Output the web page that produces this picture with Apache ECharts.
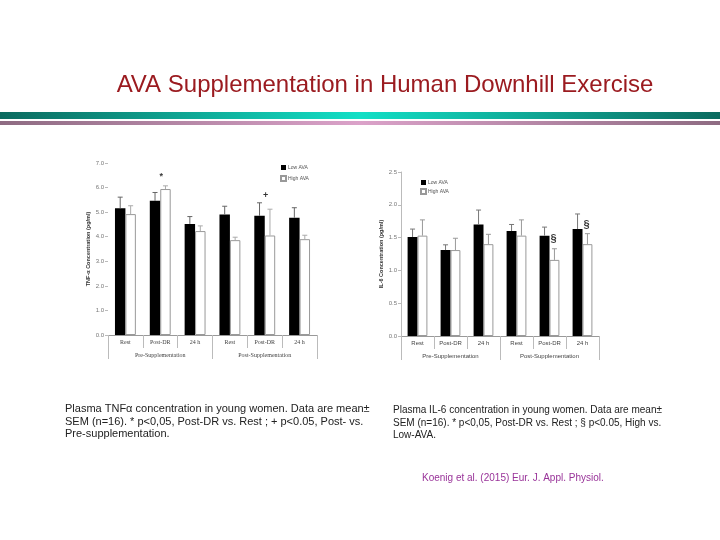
<!DOCTYPE html>
<html><head><meta charset="utf-8">
<script src="https://cdn.jsdelivr.net/npm/echarts@6/dist/echarts.min.js"></script>
<style>html,body{margin:0;padding:0;background:#fff}#c{width:720px;height:540px}</style>
</head><body><div id="c"></div>
<script>
const categories = ['Rest', 'Post-DR', '24 h', 'Rest', 'Post-DR', '24 h'];
const groups = ['Pre-Supplementation', 'Post-Supplementation'];
const seriesNames = ['Low AVA', 'High AVA'];
const tnfLow = [5.16, 5.46, 4.52, 4.90, 4.85, 4.77];
const tnfLowSem = [0.45, 0.34, 0.30, 0.34, 0.53, 0.41];
const tnfHigh = [4.92, 5.94, 4.23, 3.86, 4.05, 3.90];
const tnfHighSem = [0.34, 0.13, 0.21, 0.12, 1.07, 0.16];
const il6Low = [1.51, 1.31, 1.70, 1.60, 1.53, 1.63];
const il6LowSem = [0.12, 0.08, 0.22, 0.10, 0.13, 0.23];
const il6High = [1.53, 1.31, 1.40, 1.53, 1.16, 1.40];
const il6HighSem = [0.24, 0.18, 0.15, 0.24, 0.17, 0.16];
const tnfMarkCats = [1, 4];
const tnfMarkValues = [6.45, 5.69];
const tnfMarkTexts = ['*', '+'];
const il6MarkCats = [4, 5];
const il6MarkValues = [1.48, 1.70];
const il6MarkTexts = ['§', '§'];
const tnfTicks = [0, 7, 1];
const il6Ticks = [0, 2.5, 0.5];

const chart = echarts.init(document.getElementById('c'), null, {renderer: 'canvas'});

function errSeries(name, xi, yi, means, sems, side, color) {
  return {
    type: 'custom', name: name + ' SEM', xAxisIndex: xi, yAxisIndex: yi, z: 3,
    data: means.map((m, i) => [i, m, m + sems[i]]),
    renderItem: function (params, api) {
      const i = api.value(0);
      const band = api.size([1, 0])[0];
      const p0 = api.coord([i, api.value(1)]);
      const p1 = api.coord([i, api.value(2)]);
      const x = p0[0] + side * band * 0.15;
      return {type: 'group', children: [
        {type: 'line', shape: {x1: x, y1: p0[1], x2: x, y2: p1[1]}, style: {stroke: color, lineWidth: 1}},
        {type: 'line', shape: {x1: x - 2.5, y1: p1[1], x2: x + 2.5, y2: p1[1]}, style: {stroke: color, lineWidth: 1}}
      ]};
    }
  };
}
function markSeries(xi, yi, cats, vals, texts, size, dx) {
  return {
    type: 'scatter', xAxisIndex: xi, yAxisIndex: yi, symbolSize: 1, itemStyle: {color: 'rgba(0,0,0,0)'}, z: 5,
    data: cats.map((c, i) => ({value: [c, vals[i]], label: {formatter: texts[i]}})),
    label: {show: true, position: 'inside', offset: [dx, 0], fontSize: size, color: '#000', fontFamily: 'Liberation Sans', fontWeight: 'bold'}
  };
}
function catAxis(gi, family) {
  return {type: 'category', gridIndex: gi, data: categories, position: 'bottom',
    axisLine: {lineStyle: {color: '#999', width: 1}},
    axisTick: {show: true, length: 13, interval: 0, lineStyle: {color: '#bbb'}},
    axisLabel: {fontSize: 6, color: '#444', margin: 4, interval: 0, fontFamily: family}};
}
function groupAxis(gi, family) {
  return {type: 'category', gridIndex: gi, data: groups, position: 'bottom', offset: 13,
    axisLine: {show: false},
    axisTick: {show: true, length: 11, interval: 0, lineStyle: {color: '#bbb'}},
    axisLabel: {fontSize: 6, color: '#444', margin: 4, interval: 0, fontFamily: family}};
}
function valAxis(gi, t, name, showLine) {
  return {type: 'value', gridIndex: gi, min: t[0], max: t[1], interval: t[2],
    axisLine: {show: showLine, lineStyle: {color: '#bbb'}},
    axisTick: {show: true, length: 3, lineStyle: {color: '#bbb'}},
    splitLine: {show: false},
    axisLabel: {fontSize: 6, color: '#777', margin: 4, formatter: v => v.toFixed(1), fontFamily: 'Liberation Sans'},
    name: name, nameLocation: 'middle', nameGap: 17,
    nameTextStyle: {fontSize: 5.5, fontWeight: 'bold', color: '#333', fontFamily: 'Liberation Sans'}};
}

chart.setOption({
  animation: false,
  backgroundColor: '#fff',
  grid: [
    {left: 108, top: 163, width: 209, height: 172},
    {left: 401, top: 172, width: 198, height: 164}
  ],
  xAxis: [catAxis(0, 'Liberation Serif'), groupAxis(0, 'Liberation Serif'), catAxis(1, 'Liberation Sans'), groupAxis(1, 'Liberation Sans')],
  yAxis: [valAxis(0, tnfTicks, 'TNF-α Concentration (pg/ml)', false), valAxis(1, il6Ticks, 'IL-6 Concentration (pg/ml)', true)],
  legend: [
    {left: 275, top: 160, orient: 'vertical', itemWidth: 5, itemHeight: 5, itemGap: 5, icon: 'rect',
     data: seriesNames, textStyle: {fontSize: 5, color: '#555', padding: [0, 0, 0, -3]}},
    {left: 415, top: 175, orient: 'vertical', itemWidth: 5, itemHeight: 5, itemGap: 3, icon: 'rect',
     data: seriesNames, textStyle: {fontSize: 5, color: '#555', padding: [0, 0, 0, -3]}}
  ],
  series: [
    {type: 'bar', name: seriesNames[0], xAxisIndex: 0, yAxisIndex: 0, data: tnfLow, barWidth: '30%', barGap: '0%',
     itemStyle: {color: '#000'}},
    {type: 'bar', name: seriesNames[1], xAxisIndex: 0, yAxisIndex: 0, data: tnfHigh, barWidth: '30%', barGap: '0%',
     itemStyle: {color: '#fff', borderColor: '#999', borderWidth: 1}},
    {type: 'bar', name: seriesNames[0], xAxisIndex: 2, yAxisIndex: 1, data: il6Low, barWidth: '30%', barGap: '0%',
     itemStyle: {color: '#000'}},
    {type: 'bar', name: seriesNames[1], xAxisIndex: 2, yAxisIndex: 1, data: il6High, barWidth: '30%', barGap: '0%',
     itemStyle: {color: '#fff', borderColor: '#999', borderWidth: 1}},
    errSeries('tnfLow', 0, 0, tnfLow, tnfLowSem, -1, '#666'),
    errSeries('tnfHigh', 0, 0, tnfHigh, tnfHighSem, 1, '#aaa'),
    errSeries('il6Low', 2, 1, il6Low, il6LowSem, -1, '#777'),
    errSeries('il6High', 2, 1, il6High, il6HighSem, 1, '#999'),
    markSeries(0, 0, tnfMarkCats, tnfMarkValues, tnfMarkTexts, 9, 1),
    markSeries(2, 1, il6MarkCats, il6MarkValues, il6MarkTexts, 11, 4)
  ],
  graphic: [
    {type: 'rect', left: 0, top: 112, shape: {width: 720, height: 7}, silent: true,
     style: {fill: new echarts.graphic.LinearGradient(0, 0, 1, 0, [
       {offset: 0, color: '#0c6a5f'}, {offset: 0.5, color: '#12dfc6'}, {offset: 1, color: '#0c6a5f'}])}},
    {type: 'rect', left: 0, top: 121, shape: {width: 720, height: 4}, silent: true,
     style: {fill: new echarts.graphic.LinearGradient(0, 0, 1, 0, [
       {offset: 0, color: '#8e6b82'}, {offset: 0.5, color: '#dba2c9'}, {offset: 1, color: '#8e6b82'}])}},
    {type: 'text', x: 385, y: 85, silent: true,
     style: {text: 'AVA Supplementation in Human Downhill Exercise', fill: '#9b1b20',
       font: '24px "Liberation Sans"', textAlign: 'center', textVerticalAlign: 'middle'}},
    {type: 'text', x: 65, y: 403, silent: true,
     style: {text: 'Plasma TNFα concentration in young women. Data are mean±\nSEM (n=16). * p<0,05, Post-DR vs. Rest ; + p<0.05, Post- vs.\nPre-supplementation.',
       fill: '#222', font: '11px "Liberation Sans"', lineHeight: 12.5}},
    {type: 'text', x: 393, y: 404, silent: true,
     style: {text: 'Plasma IL-6 concentration in young women. Data are mean±\nSEM (n=16). * p<0,05, Post-DR vs. Rest ; § p<0.05, High vs.\nLow-AVA.',
       fill: '#222', font: '10px "Liberation Sans"', lineHeight: 12.5}},
    {type: 'text', x: 422, y: 473, silent: true,
     style: {text: 'Koenig et al. (2015) Eur. J. Appl. Physiol.', fill: '#993399', font: '10px "Liberation Sans"'}}
  ]
});
</script></body></html>
